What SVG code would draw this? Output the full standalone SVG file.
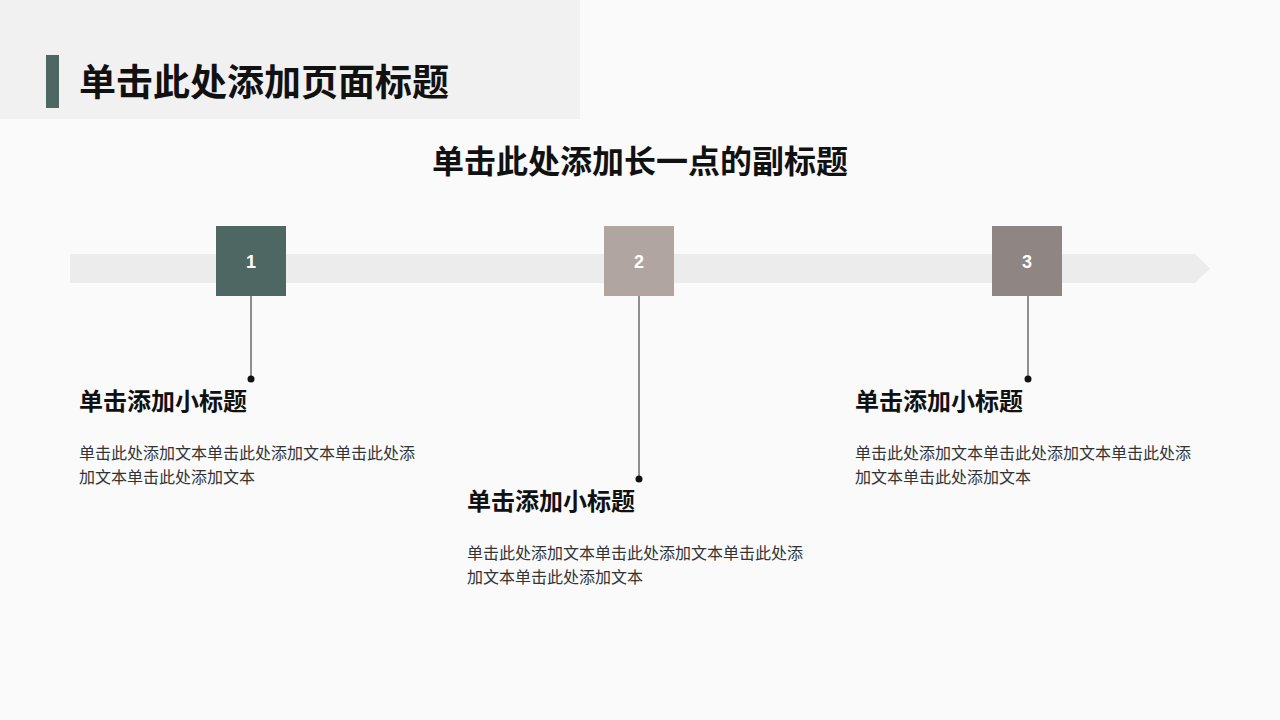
<svg xmlns="http://www.w3.org/2000/svg" width="1280" height="720" viewBox="0 0 1280 720">
<style>
text{font-family:"Liberation Sans","Noto Sans CJK SC",sans-serif;}
.h{font-size:24px;font-weight:bold;fill:#111;}
.b{font-size:16px;fill:#333;}
.n{font-size:18px;font-weight:bold;fill:#fff;text-anchor:middle;}
.ln{stroke:#222;stroke-width:1;}
</style>
<rect width="1280" height="720" fill="#fafafa"/>
<rect x="0" y="0" width="580" height="119" fill="#f1f1f1"/>
<rect x="46" y="55" width="13" height="53" fill="#4f6762"/>
<text x="79" y="96" font-size="37" font-weight="bold" fill="#111">单击此处添加页面标题</text>
<text x="640" y="173" font-size="32" font-weight="bold" fill="#111" text-anchor="middle">单击此处添加长一点的副标题</text>
<polygon points="70,254 1195,254 1210,268.5 1195,283 70,283" fill="#ececec"/>
<g id="connectors">
<line class="ln" x1="251" y1="296" x2="251" y2="379"/><circle cx="251" cy="379" r="3.5" fill="#111"/>
<line class="ln" x1="639" y1="296" x2="639" y2="479"/><circle cx="639" cy="479" r="3.5" fill="#111"/>
<line class="ln" x1="1028" y1="296" x2="1028" y2="379"/><circle cx="1028" cy="379" r="3.5" fill="#111"/>
</g>
<g id="node1"><rect x="216" y="226" width="70" height="70" fill="#4f6762"/><text class="n" x="251" y="268">1</text>
<text class="h" x="79" y="410">单击添加小标题</text>
<text class="b" x="79" y="459">单击此处添加文本单击此处添加文本单击此处添</text>
<text class="b" x="79" y="483">加文本单击此处添加文本</text></g>
<g id="node2"><rect x="604" y="226" width="70" height="70" fill="#b1a5a2"/><text class="n" x="639" y="268">2</text>
<text class="h" x="467" y="510">单击添加小标题</text>
<text class="b" x="467" y="559">单击此处添加文本单击此处添加文本单击此处添</text>
<text class="b" x="467" y="583">加文本单击此处添加文本</text></g>
<g id="node3"><rect x="992" y="226" width="70" height="70" fill="#8f8583"/><text class="n" x="1027" y="268">3</text>
<text class="h" x="855" y="410">单击添加小标题</text>
<text class="b" x="855" y="459">单击此处添加文本单击此处添加文本单击此处添</text>
<text class="b" x="855" y="483">加文本单击此处添加文本</text></g>
</svg>
